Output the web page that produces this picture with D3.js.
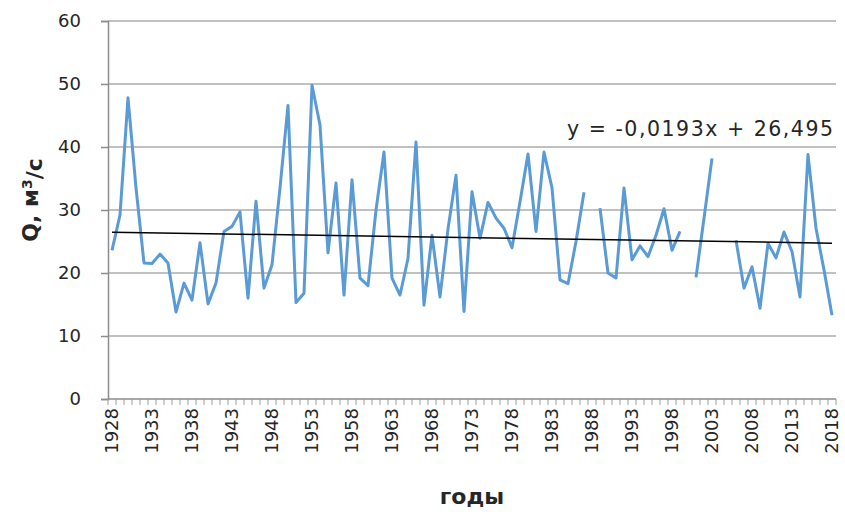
<!DOCTYPE html>
<html>
<head>
<meta charset="utf-8">
<script src="https://cdn.jsdelivr.net/npm/d3@7"></script>
<style>
  html, body { margin: 0; padding: 0; background: #fff; }
  svg { display: block; }
  text { font-family: "DejaVu Sans", Verdana, sans-serif; fill: #262626; }
</style>
</head>
<body>
<svg id="chart" width="845" height="519"></svg>
<script>
// Annual discharge Q (m³/s), 1928–2018; null = no observation that year
const years = d3.range(1928, 2019);
const discharge = [
  23.6, 29.2, 47.8, 33.5, 21.6, 21.5, 23.0, 21.6, 13.8, 18.4,   // 1928–1937
  15.7, 24.8, 15.1, 18.4, 26.6, 27.4, 29.7, 16.0, 31.4, 17.6,   // 1938–1947
  21.3, 33.5, 46.6, 15.3, 16.8, 49.8, 43.5, 23.2, 34.3, 16.5,   // 1948–1957
  34.8, 19.2, 18.0, 30.0, 39.2, 19.2, 16.5, 22.3, 40.8, 14.9,   // 1958–1967
  26.0, 16.2, 27.0, 35.5, 13.9, 32.9, 25.5, 31.2, 28.7, 27.1,   // 1968–1977
  24.0, 31.3, 38.9, 26.6, 39.2, 33.5, 18.9, 18.3, 25.0, 32.8,   // 1978–1987
  null, 30.3, 20.0, 19.2, 33.5, 22.1, 24.3, 22.6, 26.0, 30.2,   // 1988–1997
  23.6, 26.6, null, 19.3, 28.7, 38.2, null, null, 25.2, 17.6,   // 1998–2007
  21.0, 14.4, 24.7, 22.4, 26.5, 23.4, 16.2, 38.8, 27.1, 20.5,   // 2008–2017
  13.3                                                          // 2018
];
const yTicks = [0, 10, 20, 30, 40, 50, 60];
const xTickYears = d3.range(1928, 2019, 5);
// Linear trend fitted over the series index (x = 1 … 91)
const trendSlope = -0.0193;
const trendIntercept = 26.495;
const trendLabel = "y = -0,0193x + 26,495";

const svg = d3.select("#chart");
const plot = { left: 108, right: 836, top: 21, bottom: 399 };

const x = d3.scaleBand().domain(years).range([plot.left, plot.right]).padding(0);
const xc = yr => x(yr) + x.bandwidth() / 2;
const y = d3.scaleLinear().domain([0, 60]).range([plot.bottom, plot.top]);

// horizontal gridlines
svg.append("g")
  .selectAll("line")
  .data(yTicks.filter(v => v > 0))
  .join("line")
  .attr("x1", plot.left).attr("x2", plot.right)
  .attr("y1", d => y(d)).attr("y2", d => y(d))
  .attr("stroke", "#ababab").attr("stroke-width", 1.5);

// y axis
const yAxis = svg.append("g")
  .attr("transform", `translate(${plot.left},0)`)
  .call(d3.axisLeft(y).tickValues(yTicks).tickSize(7).tickPadding(20));
yAxis.select(".domain").attr("stroke", "#8c8c8c").attr("stroke-width", 1.5);
yAxis.selectAll(".tick line").attr("stroke", "#8c8c8c").attr("stroke-width", 1.5);
yAxis.selectAll(".tick text")
  .style("font-family", "DejaVu Sans, sans-serif")
  .style("font-size", "18px")
  .attr("fill", "#262626");

// x axis: a tick mark at every category boundary
const xAxisG = svg.append("g");
xAxisG.append("line")
  .attr("x1", plot.left).attr("x2", plot.right)
  .attr("y1", plot.bottom).attr("y2", plot.bottom)
  .attr("stroke", "#8c8c8c").attr("stroke-width", 1.5);
xAxisG.selectAll("line.tk")
  .data(years.concat([null]))
  .join("line")
  .attr("class", "tk")
  .attr("x1", (d, i) => plot.left + i * x.bandwidth())
  .attr("x2", (d, i) => plot.left + i * x.bandwidth())
  .attr("y1", plot.bottom).attr("y2", plot.bottom + 6)
  .attr("stroke", "#9a9a9a").attr("stroke-width", 1);
xAxisG.selectAll("text")
  .data(xTickYears)
  .join("text")
  .attr("transform", d => `translate(${xc(d)},${plot.bottom + 9}) rotate(-90)`)
  .attr("text-anchor", "end")
  .attr("dy", "0.35em")
  .style("font-size", "18px")
  .text(d => d);

// discharge series, broken where a year is missing
const series = years.map((yr, i) => ({ yr, v: discharge[i] }));
const line = d3.line()
  .defined(d => d.v !== null)
  .x(d => xc(d.yr))
  .y(d => y(d.v));
svg.append("path")
  .datum(series)
  .attr("fill", "none")
  .attr("stroke", "#5b9bd5")
  .attr("stroke-width", 3)
  .attr("stroke-linejoin", "round")
  .attr("d", line);

// trend line
const trend = [years[0], years[years.length - 1]].map(yr => ({
  yr, v: trendSlope * (yr - years[0] + 1) + trendIntercept
}));
svg.append("path")
  .datum(trend)
  .attr("fill", "none")
  .attr("stroke", "#000")
  .attr("stroke-width", 1.5)
  .attr("d", d3.line().x(d => xc(d.yr)).y(d => y(d.v)));

svg.append("text")
  .attr("x", 567).attr("y", 136)
  .attr("textLength", 266)
  .attr("lengthAdjust", "spacing")
  .style("font-size", "20.5px")
  .text(trendLabel);

// axis titles
const yTitle = svg.append("text")
  .attr("transform", "translate(38,200) rotate(-90)")
  .attr("text-anchor", "middle")
  .style("font-size", "22px")
  .style("font-weight", "bold");
yTitle.append("tspan").text("Q, м");
yTitle.append("tspan").attr("dy", "-0.45em").style("font-size", "14px").text("3");
yTitle.append("tspan").attr("dy", "0.45em").text("/с");

svg.append("text")
  .attr("x", 472).attr("y", 504)
  .attr("text-anchor", "middle")
  .style("font-size", "22px")
  .style("font-weight", "bold")
  .text("годы");
</script>
</body>
</html>
